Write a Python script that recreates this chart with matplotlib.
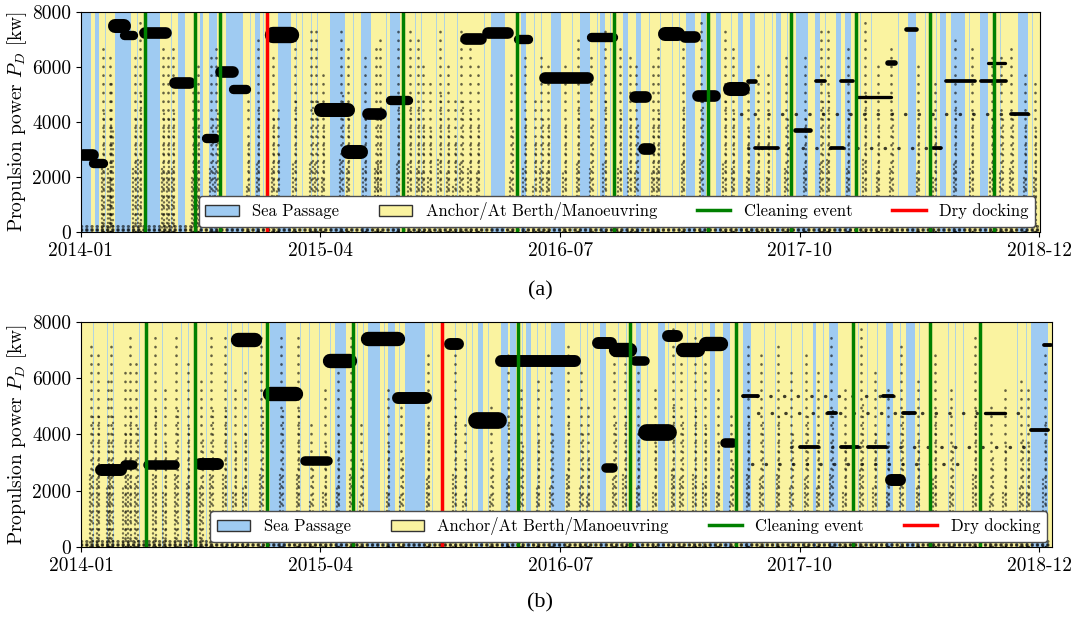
import numpy as np
import matplotlib
matplotlib.use("Agg")
import matplotlib.pyplot as plt
import matplotlib.dates as mdates
from matplotlib.patches import Patch
from matplotlib.lines import Line2D

plt.rcParams['font.family'] = 'cmr10'
plt.rcParams['mathtext.fontset'] = 'cm'
plt.rcParams['axes.unicode_minus'] = False

# ---------------- data (times in fractional years) ----------------
# (a)
sea_a = [(2014.005, 2014.052), (2014.075, 2014.095), (2014.176, 2014.259), (2014.341, 2014.410),
         (2014.506, 2014.544), (2014.619, 2014.636), (2014.666, 2014.711), (2014.758, 2014.845),
         (2014.906, 2014.932), (2015.027, 2015.097), (2015.297, 2015.375), (2015.462, 2015.510),
         (2015.609, 2015.662), (2016.139, 2016.209), (2016.296, 2016.322), (2016.452, 2016.504),
         (2016.600, 2016.652), (2016.704, 2016.730), (2016.826, 2016.852), (2016.895, 2016.921),
         (2017.156, 2017.200), (2017.234, 2017.260), (2017.312, 2017.338), (2017.425, 2017.452),
         (2017.486, 2017.512), (2017.625, 2017.651), (2017.729, 2017.790), (2017.825, 2017.851),
         (2017.938, 2017.964), (2017.982, 2018.016), (2018.312, 2018.355), (2018.477, 2018.512),
         (2018.538, 2018.607), (2018.686, 2018.729), (2018.885, 2018.937)]
short_a = [2014.125, 2014.290, 2014.470, 2014.600, 2014.880, 2014.950, 2015.120, 2015.150,
           2015.200, 2015.230, 2015.420, 2015.590, 2015.740, 2015.770, 2015.850, 2015.890,
           2015.960, 2016.100, 2016.360, 2016.400, 2016.560, 2016.690, 2016.760, 2016.960,
           2017.020, 2017.080, 2017.120, 2017.390, 2017.560, 2017.600, 2017.680, 2017.700,
           2017.880, 2018.060, 2018.120, 2018.260, 2018.400, 2018.460, 2018.630, 2018.760,
           2018.790, 2018.960]
clean_a = [2014.332, 2014.593, 2014.726, 2015.679, 2016.275, 2016.779, 2017.269,
           2017.703, 2018.039, 2018.425, 2018.760]
dock_a = [2014.968]
# dense clusters: start, end, level, spread
bands_a = [(2014.010, 2014.063, 2800, 250), (2014.063, 2014.115, 2500, 200),
           (2014.176, 2014.225, 7500, 300), (2014.225, 2014.271, 7150, 200),
           (2014.332, 2014.445, 7250, 250), (2014.488, 2014.567, 5400, 250),
           (2014.653, 2014.697, 3400, 200), (2014.732, 2014.790, 5800, 250),
           (2014.790, 2014.862, 5200, 200), (2015.001, 2015.097, 7150, 350),
           (2015.253, 2015.392, 4450, 300), (2015.392, 2015.462, 2900, 300),
           (2015.496, 2015.566, 4300, 250), (2015.609, 2015.705, 4800, 200),
           (2016.009, 2016.087, 7000, 250), (2016.122, 2016.226, 7250, 250),
           (2016.278, 2016.331, 7000, 200), (2016.417, 2016.643, 5600, 250),
           (2016.661, 2016.774, 7100, 200), (2016.887, 2016.948, 4900, 250),
           (2016.935, 2016.965, 3000, 250), (2017.043, 2017.113, 7200, 300),
           (2017.147, 2017.200, 7100, 250), (2017.217, 2017.304, 4950, 250),
           (2017.382, 2017.452, 5200, 300), (2017.478, 2017.513, 5500, 100),
           (2017.513, 2017.634, 3050, 80), (2017.721, 2017.799, 3700, 100),
           (2017.834, 2017.877, 5500, 80), (2017.912, 2017.973, 3050, 80),
           (2017.964, 2018.025, 5500, 80), (2018.051, 2018.225, 4900, 70),
           (2018.208, 2018.243, 6130, 120), (2018.303, 2018.355, 7380, 100),
           (2018.442, 2018.486, 3040, 80), (2018.512, 2018.660, 5500, 80),
           (2018.694, 2018.824, 5500, 80), (2018.729, 2018.816, 6130, 70),
           (2018.851, 2018.937, 4290, 80)]
# columns of scattered samples: time, highest power
streaks_a = [(2014.115, 6860), (2014.149, 6500), (2014.158, 5650), (2014.280, 6620), (2014.306, 7830),
             (2014.428, 6740), (2014.454, 6380), (2014.480, 6860), (2014.584, 5650), (2014.610, 6250),
             (2014.680, 6620), (2014.706, 6860), (2014.871, 5040), (2014.923, 7100), (2015.001, 6620),
             (2015.027, 4440), (2015.114, 7340), (2015.201, 7340), (2015.227, 7340), (2015.262, 6010),
             (2015.357, 7590), (2015.392, 6860), (2015.479, 6500), (2015.540, 6860), (2015.557, 7100),
             (2015.653, 7340), (2015.714, 7340), (2015.757, 6980), (2015.783, 6250), (2015.818, 5650),
             (2015.870, 7590), (2015.913, 6250), (2015.948, 5040), (2015.983, 7340), (2016.026, 6860),
             (2016.070, 6250), (2016.244, 5890), (2016.313, 6620), (2016.365, 5040), (2016.400, 6620),
             (2016.435, 6250), (2016.522, 6250), (2016.591, 7100), (2016.661, 6500), (2016.730, 7340),
             (2016.808, 6860), (2016.861, 6620), (2016.895, 6250), (2016.982, 6130), (2017.008, 6860),
             (2017.139, 7100), (2017.234, 7830), (2017.356, 7340), (2017.399, 6860), (2017.478, 5650),
             (2017.530, 6250), (2017.582, 5890), (2017.678, 6500), (2017.774, 6620), (2017.860, 7340),
             (2017.895, 7590), (2017.999, 6860), (2018.086, 7830), (2018.156, 6250), (2018.225, 6860),
             (2018.364, 6250), (2018.451, 5650), (2018.556, 7100), (2018.643, 6860), (2018.747, 6620),
             (2018.799, 6380), (2018.851, 6860), (2018.921, 6010), (2018.973, 5650)]
rows_a = [(2017.44, 2018.96, 4290), (2017.48, 2018.49, 3040)]

# (b)
sea_b = [(2014.963, 2014.979), (2014.984, 2015.070), (2015.323, 2015.383), (2015.496, 2015.557),
         (2015.601, 2015.636), (2015.688, 2015.792), (2016.070, 2016.096), (2016.191, 2016.226),
         (2016.235, 2016.270), (2016.322, 2016.348), (2016.452, 2016.522), (2016.704, 2016.739),
         (2016.895, 2016.921), (2017.008, 2017.043), (2017.278, 2017.304), (2017.347, 2017.382),
         (2017.452, 2017.495), (2017.817, 2017.834), (2017.903, 2017.947), (2018.199, 2018.234),
         (2018.303, 2018.347), (2018.955, 2019.042)]
short_b = [2014.060, 2014.135, 2014.165, 2014.300, 2014.420, 2014.520, 2014.560, 2014.650,
           2014.760, 2014.780, 2014.840, 2014.870, 2014.940, 2015.140, 2015.190, 2015.240,
           2015.300, 2015.440, 2015.470, 2015.580, 2015.660, 2015.830, 2015.950, 2016.010,
           2016.040, 2016.120, 2016.300, 2016.380, 2016.420, 2016.600, 2016.640, 2016.670,
           2016.800, 2016.840, 2016.950, 2017.060, 2017.100, 2017.160, 2017.200, 2017.240,
           2017.420, 2017.560, 2017.620, 2017.700, 2017.760, 2017.870, 2018.050, 2018.100,
           2018.150, 2018.270, 2018.370, 2018.520, 2018.560, 2018.600, 2018.880, 2018.930]
clean_b = [2014.337, 2014.596, 2014.971, 2015.420, 2016.280, 2016.862, 2017.417,
           2018.025, 2018.425, 2018.689]
dock_b = [2015.884]
bands_b = [(2014.106, 2014.210, 2750, 250), (2014.228, 2014.271, 2900, 200),
           (2014.349, 2014.488, 2900, 200), (2014.619, 2014.714, 2950, 250),
           (2014.819, 2014.905, 7350, 300), (2014.984, 2015.123, 5450, 300),
           (2015.166, 2015.288, 3050, 200), (2015.296, 2015.401, 6600, 300),
           (2015.496, 2015.653, 7400, 300), (2015.653, 2015.800, 5300, 250),
           (2015.922, 2015.966, 7200, 250), (2016.061, 2016.174, 4500, 350),
           (2016.191, 2016.574, 6600, 250), (2016.696, 2016.765, 7250, 250),
           (2016.739, 2016.774, 2800, 200), (2016.791, 2016.861, 7000, 300),
           (2016.887, 2016.939, 6600, 200), (2016.947, 2017.060, 4100, 350),
           (2017.060, 2017.110, 7500, 250), (2017.139, 2017.217, 7000, 300),
           (2017.260, 2017.338, 7200, 300), (2017.356, 2017.399, 3700, 200),
           (2017.452, 2017.530, 5350, 80), (2017.747, 2017.843, 3560, 80),
           (2017.895, 2017.938, 4750, 80), (2017.964, 2018.051, 3560, 80),
           (2018.103, 2018.199, 3560, 80), (2018.181, 2018.234, 5350, 80),
           (2018.225, 2018.269, 2380, 250), (2018.286, 2018.347, 4750, 80),
           (2018.712, 2018.816, 4750, 70), (2018.955, 2019.042, 4160, 80),
           (2019.024, 2019.059, 7180, 80)]
streaks_b = [(2014.054, 7360), (2014.089, 7120), (2014.141, 5940), (2014.158, 7360), (2014.228, 6290),
             (2014.254, 7710), (2014.288, 6650), (2014.384, 7600), (2014.436, 5700), (2014.497, 7600),
             (2014.558, 6650), (2014.627, 6060), (2014.680, 7600), (2014.749, 7710), (2014.801, 5700),
             (2014.853, 6290), (2014.940, 7600), (2015.044, 7480), (2015.131, 7480), (2015.201, 4510),
             (2015.270, 5700), (2015.340, 6290), (2015.409, 7480), (2015.462, 4510), (2015.601, 5700),
             (2015.670, 5110), (2015.809, 7000), (2015.948, 7360), (2016.000, 4510), (2016.139, 5110),
             (2016.226, 6880), (2016.296, 5700), (2016.383, 5940), (2016.452, 6290), (2016.539, 7360),
             (2016.609, 6290), (2016.643, 5110), (2016.782, 6880), (2016.835, 7360), (2016.904, 6290),
             (2016.991, 5700), (2017.087, 7830), (2017.130, 6880), (2017.200, 7480), (2017.252, 6650),
             (2017.322, 5700), (2017.391, 4750), (2017.478, 7360), (2017.547, 6880), (2017.634, 7360),
             (2017.704, 6290), (2017.782, 7120), (2017.843, 6290), (2017.912, 7600), (2017.982, 5700),
             (2018.069, 7830), (2018.138, 6290), (2018.208, 5700), (2018.277, 7360), (2018.364, 5940),
             (2018.451, 6880), (2018.538, 5700), (2018.660, 7600), (2018.747, 5110), (2018.817, 5700),
             (2018.903, 5940), (2018.938, 5700), (2019.025, 6880)]
rows_b = [(2017.45, 2018.25, 5350), (2017.53, 2018.92, 4750), (2017.70, 2018.95, 3560),
          (2017.50, 2018.60, 2950)]

idle_level = 120          # dense samples at standstill
y_ticks = [0, 2000, 4000, 6000, 8000]
x_ticks = ['2014-01-01', '2015-04-02', '2016-07-02', '2017-10-01', '2018-12-31']
labels = ['Sea Passage', 'Anchor/At Berth/Manoeuvring', 'Cleaning event', 'Dry docking']

blue = '#9fcbf2'
yellow = '#faf3a0'

t_start = mdates.date2num(np.datetime64('2014-01-01'))


def tn(v):
    return t_start + (np.asarray(v, dtype=float) - 2014.0) * 365.25


def dotted_v(ax, x, top, frac, lw, gap, alpha):
    lc = ax.vlines(x, 0, top * frac, color='k', lw=lw, alpha=alpha,
                   linestyles=(0, (0.1, gap)), zorder=1)
    lc.set_capstyle('round')


def draw(ax, sea, short, clean, dock, bands, streaks, rows, x_end):
    x0, x1 = tn(2014.0), tn(x_end)
    prev = x0
    for s, e in sea:
        ax.axvspan(prev, tn(s), color=yellow, lw=0, zorder=0)
        ax.axvspan(tn(s), tn(e), color=blue, lw=0, zorder=0)
        prev = tn(e)
    ax.axvspan(prev, x1, color=yellow, lw=0, zorder=0)
    ax.vlines(tn(short), 0, 8000, color=blue, lw=0.7, alpha=0.8, zorder=0.5)

    st = np.array(streaks)
    xs = tn(st[:, 0])
    dotted_v(ax, xs, st[:, 1], 1.0, 1.9, 3.2, 0.6)
    dotted_v(ax, xs + 2.5, st[:, 1], 0.65, 1.7, 2.4, 0.55)
    dotted_v(ax, xs - 2.5, st[:, 1], 0.35, 1.7, 1.8, 0.55)

    rw = np.array(rows)
    lc = ax.hlines(rw[:, 2], tn(rw[:, 0]), tn(rw[:, 1]), color='k', lw=2.4, alpha=0.75,
                   linestyles=(0, (0.1, 4.0)), zorder=1)
    lc.set_capstyle('round')
    lc = ax.hlines([idle_level * 0.5, idle_level, idle_level * 1.8], x0, x1, color='k',
                   lw=2.2, alpha=0.6, linestyles=(0, (0.1, 1.6)), zorder=1)
    lc.set_capstyle('round')

    # height of the axes in points, to turn a spread in kW into a line width
    h_pt = ax.get_position().height * ax.figure.get_figheight() * 72
    for s, e, lvl, sp in bands:
        ax.plot([tn(s), tn(e)], [lvl, lvl], color='k', lw=1.7 * sp / 8000 * h_pt,
                solid_capstyle='round', zorder=1.5)

    for c in clean:
        ax.axvline(tn(c), color='green', lw=2.5, zorder=2)
    for d in dock:
        ax.axvline(tn(d), color='red', lw=2.5, zorder=2)

    ax.set_xlim(x0, x1)
    ax.set_ylim(0, 8000)
    ax.set_yticks(y_ticks)
    ax.set_xticks([mdates.date2num(np.datetime64(d)) for d in x_ticks])
    ax.xaxis.set_major_formatter(mdates.DateFormatter('%Y-%m'))
    ax.tick_params(labelsize=14)
    ax.set_ylabel(r'Propulsion power $P_D$ [kw]', fontsize=14, labelpad=2)

    handles = [Patch(facecolor=blue, edgecolor='0.2', label=labels[0]),
               Patch(facecolor=yellow, edgecolor='0.2', label=labels[1]),
               Line2D([], [], color='green', lw=2.5, label=labels[2]),
               Line2D([], [], color='red', lw=2.5, label=labels[3])]
    leg = ax.legend(handles=handles, loc='lower right', ncol=4, fontsize=12,
                    framealpha=1, edgecolor='0.3', borderaxespad=0.3, columnspacing=2.4)
    leg.set_zorder(5)


fig = plt.figure(figsize=(10.8, 6.25), dpi=100)
ax1 = fig.add_axes([0.075, 0.629, 0.888, 0.352])
ax2 = fig.add_axes([0.075, 0.125, 0.899, 0.360])

draw(ax1, sea_a, short_a, clean_a, dock_a, bands_a, streaks_a, rows_a, 2019.0)
draw(ax2, sea_b, short_b, clean_b, dock_b, bands_b, streaks_b, rows_b, 2019.063)

fig.text(0.5, 0.535, '(a)', ha='center', va='center', fontsize=16, family='Liberation Serif')
fig.text(0.5, 0.035, '(b)', ha='center', va='center', fontsize=16, family='Liberation Serif')

fig.savefig('out.png', dpi=100)
